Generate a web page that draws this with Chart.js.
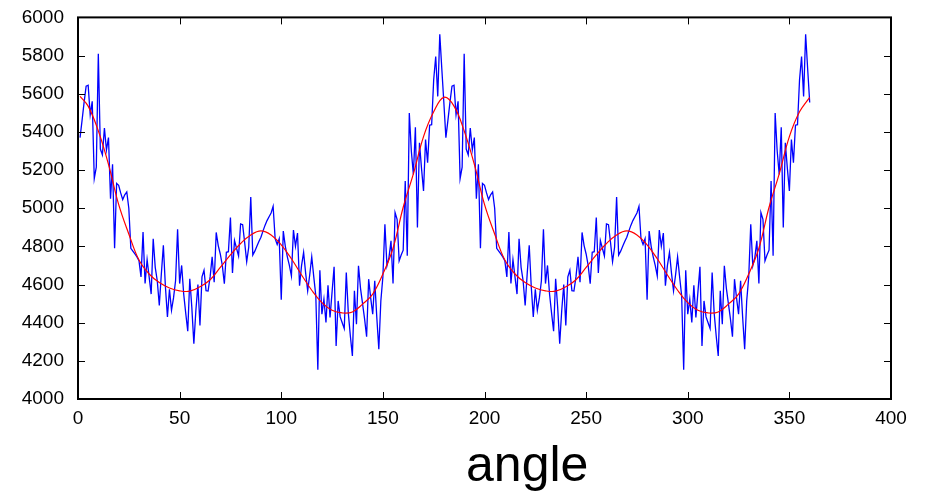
<!DOCTYPE html>
<html>
<head>
<meta charset="utf-8">
<script src="https://cdn.jsdelivr.net/npm/chart.js@4"></script>
<style>
  html, body { margin: 0; padding: 0; background: #fff; }
</style>
</head>
<body>
<canvas id="grafico" width="928" height="493"></canvas>
<script>
// medidas de 1 a 180 graus
const contagemA = [
  5370, 5460, 5555, 5640, 5645, 5490, 5560, 5155, 5215, 5810,
  5310, 5280, 5420, 5305, 5370, 5050, 5230, 4790, 5130, 5120,
  5080, 5045, 5070, 5085, 5000, 4790, 4775, 4760, 4745, 4725,
  4640, 4875, 4605, 4730, 4640, 4550, 4840, 4690, 4620, 4490,
  4655, 4805, 4590, 4430, 4575, 4465, 4530, 4620, 4890, 4605,
  4700, 4550, 4450, 4355, 4630, 4480, 4290, 4465, 4600, 4385,
  4640, 4675, 4568, 4566, 4640, 4745, 4612, 4873, 4804, 4760,
  4700, 4604, 4769, 4772, 4951, 4660, 4830, 4790, 4750, 4918,
  4914, 4820, 4720, 4795, 5059, 4755, 4775, 4800, 4825, 4848,
  4880, 4910, 4935, 4955, 4975, 5010, 4840, 4810, 4840, 4520,
  4880, 4800, 4745, 4700, 4645, 4885, 4800, 4870, 4594, 4700,
  4768, 4660, 4567, 4650, 4745, 4640, 4541, 4153, 4675, 4444,
  4523, 4401, 4596, 4427, 4560, 4693, 4278, 4514, 4430, 4400,
  4369, 4663, 4450, 4330, 4226, 4567, 4392, 4698, 4580, 4500,
  4420, 4326, 4628, 4530, 4444, 4619, 4430, 4261, 4514, 4640,
  4916, 4698, 4741, 4829, 4605, 4977, 4942, 4724, 4755, 4780,
  5143, 4751, 5499, 5300, 5177, 5424, 4899, 5343, 5210, 5090,
  5360, 5238, 5435, 5438, 5673, 5795, 5586, 5911, 5730, 5554
];

// medidas de 181 a 360 graus
const contagemB = [
  5370, 5460, 5555, 5640, 5645, 5490, 5560, 5155, 5215, 5810,
  5310, 5280, 5420, 5305, 5370, 5050, 5230, 4790, 5130, 5120,
  5080, 5045, 5070, 5085, 5000, 4790, 4775, 4760, 4745, 4725,
  4640, 4875, 4605, 4730, 4640, 4550, 4840, 4690, 4620, 4490,
  4655, 4805, 4590, 4430, 4575, 4465, 4530, 4620, 4890, 4605,
  4700, 4550, 4450, 4355, 4630, 4480, 4290, 4465, 4600, 4385,
  4640, 4675, 4568, 4566, 4640, 4745, 4612, 4873, 4804, 4760,
  4700, 4604, 4769, 4772, 4951, 4660, 4830, 4790, 4750, 4918,
  4914, 4820, 4720, 4795, 5059, 4755, 4775, 4800, 4825, 4848,
  4880, 4910, 4935, 4955, 4975, 5010, 4840, 4810, 4840, 4520,
  4880, 4800, 4745, 4700, 4645, 4885, 4800, 4870, 4594, 4700,
  4768, 4660, 4567, 4650, 4745, 4640, 4541, 4153, 4675, 4444,
  4523, 4401, 4596, 4427, 4560, 4693, 4278, 4514, 4430, 4400,
  4369, 4663, 4450, 4330, 4226, 4567, 4392, 4698, 4580, 4500,
  4420, 4326, 4628, 4530, 4444, 4619, 4430, 4261, 4514, 4640,
  4916, 4698, 4741, 4829, 4605, 4977, 4942, 4724, 4755, 4780,
  5143, 4751, 5499, 5300, 5177, 5424, 4899, 5343, 5210, 5090,
  5360, 5238, 5435, 5438, 5673, 5795, 5586, 5911, 5730, 5554
];

// curva ajustada (vermelha)
const angulosAjuste = [
  1, 5, 10, 15, 20, 25, 30, 35, 40, 45, 50, 55, 60, 65, 70, 75, 80, 85, 90,
  95, 100, 105, 110, 115, 120, 125, 130, 135, 140, 145, 150, 155, 160, 165, 170, 175, 180,
  185, 190, 195, 200, 205, 210, 215, 220, 225, 230, 235, 240, 245, 250, 255, 260, 265, 270,
  275, 280, 285, 290, 295, 300, 305, 310, 315, 320, 325, 330, 335, 340, 345, 350, 355, 360
];
const valoresAjuste = [
  5586, 5535, 5405, 5230, 5020, 4865, 4728, 4655, 4610, 4582, 4567, 4565, 4588, 4625, 4690, 4755, 4815, 4860, 4881,
  4860, 4808, 4735, 4650, 4570, 4505, 4465, 4451, 4456, 4497, 4550, 4655, 4790, 5005, 5180, 5375, 5505, 5581,
  5535, 5405, 5230, 5020, 4865, 4728, 4655, 4610, 4582, 4567, 4565, 4588, 4625, 4690, 4755, 4815, 4860, 4881,
  4860, 4808, 4735, 4650, 4570, 4505, 4465, 4451, 4456, 4497, 4550, 4655, 4790, 5005, 5180, 5375, 5505, 5581
];

const ticksX = [0, 50, 100, 150, 200, 250, 300, 350, 400];
const ticksY = [4000, 4200, 4400, 4600, 4800, 5000, 5200, 5400, 5600, 5800, 6000];
const tituloX = 'angle';

const medidas = contagemA.concat(contagemB).map((v, i) => ({ x: i + 1, y: v }));
const ajuste = angulosAjuste.map((a, i) => ({ x: a, y: valoresAjuste[i] }));

const familia = "'Liberation Sans', Arial, sans-serif";
const fonteEixo = { family: familia, size: 19 };

// moldura fechada com tracinhos para dentro nos quatro lados, e o nome do eixo x
const moldura = {
  id: 'moldura',
  afterDatasetsDraw(chart) {
    const { ctx, chartArea: a, scales: { x, y } } = chart;
    const tam = 7;
    ctx.save();
    ctx.strokeStyle = '#000';
    ctx.lineWidth = 1;
    ctx.beginPath();
    x.ticks.forEach(t => {
      const px = Math.round(x.getPixelForValue(t.value)) + 0.5;
      ctx.moveTo(px, a.bottom); ctx.lineTo(px, a.bottom - tam);
      ctx.moveTo(px, a.top); ctx.lineTo(px, a.top + tam);
    });
    y.ticks.forEach(t => {
      const py = Math.round(y.getPixelForValue(t.value)) + 0.5;
      ctx.moveTo(a.left, py); ctx.lineTo(a.left + tam, py);
      ctx.moveTo(a.right, py); ctx.lineTo(a.right - tam, py);
    });
    ctx.stroke();
    ctx.lineWidth = 2;
    ctx.strokeRect(a.left, a.top, a.right - a.left, a.bottom - a.top);

    ctx.fillStyle = '#000';
    ctx.font = '50px ' + familia;
    ctx.textAlign = 'center';
    ctx.textBaseline = 'alphabetic';
    ctx.fillText(tituloX, x.getPixelForValue(221), 481);
    ctx.restore();
  }
};

const ctx = document.getElementById('grafico').getContext('2d');
const grafico = new Chart(ctx, {
  type: 'line',
  data: {
    datasets: [
      {
        data: ajuste,
        borderColor: '#ff0000',
        borderWidth: 1.2,
        pointRadius: 0,
        tension: 0.4,
        order: 0
      },
      {
        data: medidas,
        borderColor: '#0000ff',
        borderWidth: 1.3,
        pointRadius: 0,
        tension: 0,
        order: 1
      }
    ]
  },
  options: {
    responsive: false,
    animation: false,
    layout: { padding: { left: 0, right: 37, top: 16, bottom: 0 } },
    plugins: {
      legend: { display: false },
      tooltip: { enabled: false }
    },
    scales: {
      x: {
        type: 'linear',
        min: 0,
        max: 400,
        afterBuildTicks: s => { s.ticks = ticksX.map(v => ({ value: v })); },
        afterFit: s => { s.height = 94; },
        grid: { display: false },
        border: { display: false },
        ticks: { color: '#000', font: fonteEixo, padding: 0, maxRotation: 0, callback: v => String(v) }
      },
      y: {
        type: 'linear',
        min: 4000,
        max: 6000,
        afterBuildTicks: s => { s.ticks = ticksY.map(v => ({ value: v })); },
        afterFit: s => { s.width = 78; },
        grid: { display: false },
        border: { display: false },
        ticks: { color: '#000', font: fonteEixo, padding: 6, callback: v => String(v) }
      }
    }
  },
  plugins: [moldura]
});
</script>
</body>
</html>
